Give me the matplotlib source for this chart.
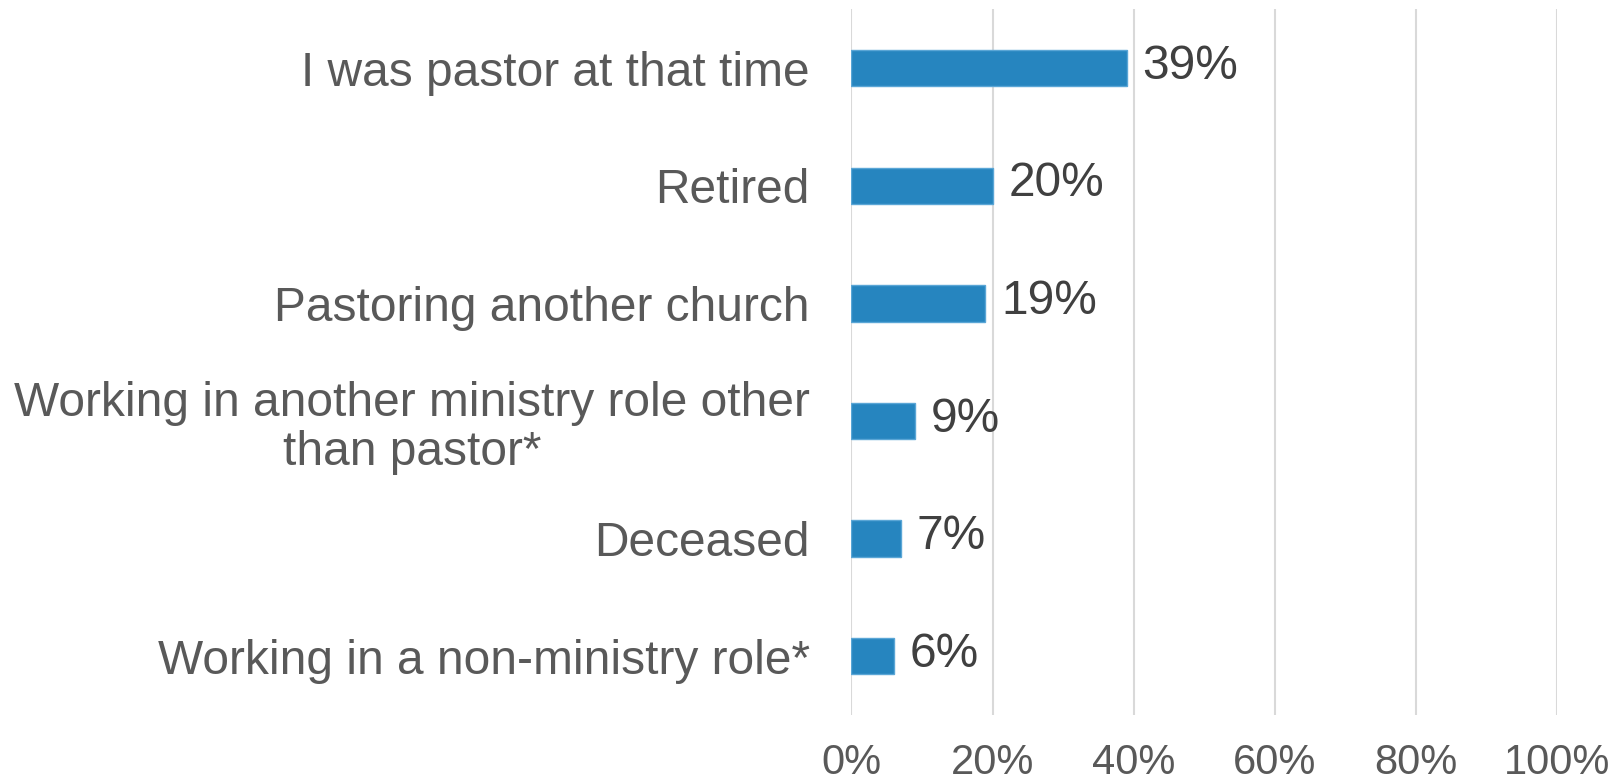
import matplotlib
matplotlib.use("Agg")
import matplotlib.pyplot as plt
from matplotlib.ticker import FuncFormatter

categories = [
    "I was pastor at that time",
    "Retired",
    "Pastoring another church",
    "Working in another ministry role other\nthan pastor*",
    "Deceased",
    "Working in a non-ministry role*",
]
values = [39, 20, 19, 9, 7, 6]
xticks = [0, 20, 40, 60, 80, 100]

plt.rcParams['font.family'] = ['Liberation Sans', 'DejaVu Sans']

fig = plt.figure(figsize=(16.24, 7.83), dpi=100)
ax = fig.add_axes([0.5243, 0.0868, 0.4343, 0.9012])

y = list(range(len(categories)))
ax.barh(y, values, height=0.31, color='#2685BF', edgecolor='#5AA6D6', linewidth=1.0, zorder=3)
ax.set_ylim(len(categories) - 0.5, -0.5)
ax.set_xlim(0, 100)
ax.set_yticks(y)
ax.set_yticklabels(categories, fontsize=34.5, color='#595959', multialignment='center',
                   linespacing=1.1)
ax.set_xticks(xticks)
ax.xaxis.set_major_formatter(FuncFormatter(lambda v, p: f"{int(v)}%"))
ax.tick_params(axis='x', labelsize=30, labelcolor='#595959', length=0, pad=20)
ax.tick_params(axis='y', length=0, pad=30)
ax.grid(axis='x', color='#D9D9D9', linewidth=1.5, zorder=0)
for s in ax.spines.values():
    s.set_visible(False)

for yi, v in zip(y, values):
    ax.annotate(f"{v}%", (v, yi), xytext=(16, 2), textcoords='offset pixels',
                va='center', ha='left', fontsize=34.5, color='#404040')

fig.savefig("out.png", dpi=100)
